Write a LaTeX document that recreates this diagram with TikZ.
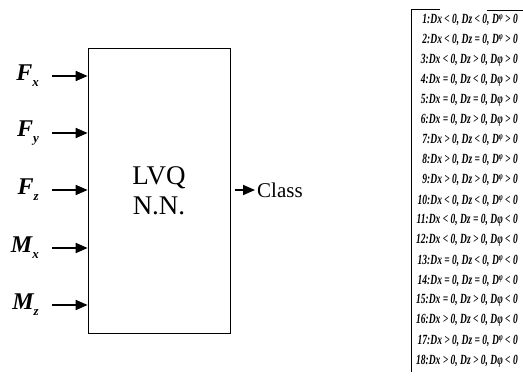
\documentclass[tikz,border=0pt]{standalone}
\usepackage{fontspec}
\setmainfont{Liberation Serif}
\usetikzlibrary{arrows.meta}
\tikzset{
  inarrow/.style={line width=1.7pt,-{Triangle[length=12pt,width=10pt]}},
  inlabel/.style={anchor=east,inner sep=0pt,font=\fontsize{24}{26}\selectfont\bfseries\itshape},
  item/.style={anchor=east,inner sep=0pt,font=\fontsize{14}{16}\selectfont\bfseries\itshape},
  frame/.style={line width=0.7pt}
}
\newcommand{\sbx}[1]{\raisebox{-6pt}{\fontsize{13}{13}\selectfont #1}}
\newcommand{\Dp}{D\raisebox{4pt}{\fontsize{10}{10}\selectfont φ}}
\newcommand{\Dq}{Dφ}
\newcommand{\cond}[1]{\scalebox{0.68}[1]{#1}}
\begin{document}
\begin{tikzpicture}[x=1pt,y=-1pt]
\useasboundingbox (0,0) rectangle (523,378);
% main box
\node[draw,frame,minimum width=142pt,minimum height=285pt,inner sep=0pt] (nn) at (159,190.5) {};
\node[align=center,font=\fontsize{27}{30}\selectfont] (lbl) at (nn.center) {LVQ\\N.N.};
% inputs
\foreach \n/\a/\b/\y in {fx/F/x/76, fy/F/y/133, fz/F/z/190, mx/M/x/248, mz/M/z/305}{
  \node[inlabel] (\n) at (39,\y) {\a\sbx{\b}};
  \coordinate (\n t) at (nn.west |- 0,\y);
  \draw[inarrow] (52,\y) -- (\n t);
}
% output
\node[anchor=west,inner sep=0pt,font=\fontsize{21}{23}\selectfont] (cls) at (257,190) {Class};
\draw[inarrow] (nn.east |- cls.west) ++(5,0) coordinate (os) -- ([xshift=-2pt]cls.west);
% list frame
\coordinate (lt) at (411,9);
\coordinate (lb) at (411,372);
\coordinate (ltr) at (440,9);
\coordinate (rt1) at (487,10);
\coordinate (rt2) at (523,10);
\draw[frame] (ltr) -- (lt) -- (lb);
\draw[frame] (rt1) -- (rt2);
% items
\foreach \i/\a/\b/\c/\rs [count=\k] in {
 1/< 0/< 0/> 0/1, 2/< 0/= 0/> 0/1, 3/< 0/> 0/> 0/0, 4/= 0/< 0/> 0/0, 5/= 0/= 0/> 0/0, 6/= 0/> 0/> 0/0,
 7/> 0/< 0/> 0/1, 8/> 0/= 0/> 0/1, 9/> 0/> 0/> 0/1, 10/< 0/< 0/< 0/1, 11/< 0/= 0/< 0/0, 12/< 0/> 0/< 0/0,
 13/= 0/< 0/< 0/1, 14/= 0/= 0/< 0/1, 15/= 0/> 0/< 0/0, 16/> 0/< 0/< 0/0, 17/> 0/= 0/< 0/1, 18/> 0/> 0/< 0/0}{
  \node[item] (it\k) at (518,{20+(\k-1)*20.05}) {\cond{\i:Dx \a, Dz \b, \ifnum\rs=1 \Dp\else\Dq\fi\ \c}};
}
\end{tikzpicture}
\end{document}
